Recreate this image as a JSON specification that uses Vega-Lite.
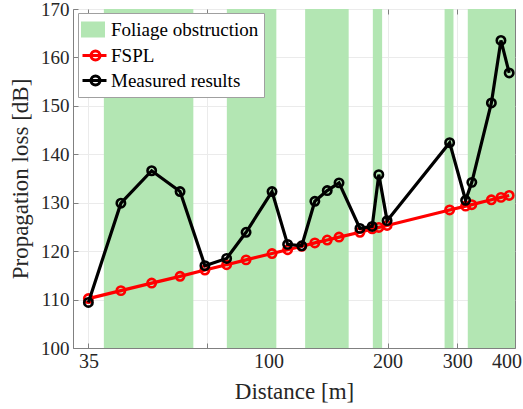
{
  "$schema": "https://vega.github.io/schema/vega-lite/v6.json",
  "width": 442,
  "height": 339,
  "autosize": "none",
  "padding": {"left": 73, "top": 9, "right": 8, "bottom": 61},
  "background": "white",
  "config": {
    "font": "Liberation Serif",
    "view": {"stroke": "#808080", "strokeWidth": 1},
    "axis": {
      "labelFont": "Liberation Serif",
      "titleFont": "Liberation Serif",
      "labelColor": "#262626",
      "titleColor": "#262626",
      "labelFontSize": 20,
      "titleFontSize": 23,
      "titleFontWeight": "normal",
      "domainColor": "#808080",
      "tickColor": "#808080",
      "gridColor": "#ebebeb",
      "gridWidth": 1
    },
    "legend": {
      "labelFont": "Liberation Serif",
      "labelFontSize": 19,
      "labelColor": "#000000"
    }
  },
  "datasets": {
    "bands": [
      {"start": 38.3, "end": 64.5},
      {"start": 78.4, "end": 104.6},
      {"start": 123.7, "end": 159.4},
      {"start": 183.5, "end": 193.7},
      {"start": 278.7, "end": 293.5},
      {"start": 319, "end": 420}
    ],
    "pts": [
      {"distance": 35, "loss": 110.2, "series": "FSPL"},
      {"distance": 42.3, "loss": 111.85, "series": "FSPL"},
      {"distance": 50.6, "loss": 113.4, "series": "FSPL"},
      {"distance": 59.7, "loss": 114.8, "series": "FSPL"},
      {"distance": 69.0, "loss": 116.1, "series": "FSPL"},
      {"distance": 78.3, "loss": 117.2, "series": "FSPL"},
      {"distance": 87.7, "loss": 118.2, "series": "FSPL"},
      {"distance": 102, "loss": 119.5, "series": "FSPL"},
      {"distance": 111.7, "loss": 120.3, "series": "FSPL"},
      {"distance": 121.3, "loss": 121.0, "series": "FSPL"},
      {"distance": 130.9, "loss": 121.7, "series": "FSPL"},
      {"distance": 140.7, "loss": 122.3, "series": "FSPL"},
      {"distance": 150.7, "loss": 122.9, "series": "FSPL"},
      {"distance": 170.2, "loss": 123.9, "series": "FSPL"},
      {"distance": 182.8, "loss": 124.6, "series": "FSPL"},
      {"distance": 190, "loss": 124.9, "series": "FSPL"},
      {"distance": 199.4, "loss": 125.3, "series": "FSPL"},
      {"distance": 287, "loss": 128.5, "series": "FSPL"},
      {"distance": 315, "loss": 129.3, "series": "FSPL"},
      {"distance": 326.6, "loss": 129.6, "series": "FSPL"},
      {"distance": 366, "loss": 130.6, "series": "FSPL"},
      {"distance": 387, "loss": 131.1, "series": "FSPL"},
      {"distance": 406, "loss": 131.5, "series": "FSPL"},
      {"distance": 35, "loss": 109.4, "series": "Measured results"},
      {"distance": 42.3, "loss": 129.9, "series": "Measured results"},
      {"distance": 50.6, "loss": 136.6, "series": "Measured results"},
      {"distance": 59.7, "loss": 132.3, "series": "Measured results"},
      {"distance": 69.0, "loss": 117.0, "series": "Measured results"},
      {"distance": 78.3, "loss": 118.5, "series": "Measured results"},
      {"distance": 87.7, "loss": 123.9, "series": "Measured results"},
      {"distance": 102, "loss": 132.3, "series": "Measured results"},
      {"distance": 111.7, "loss": 121.4, "series": "Measured results"},
      {"distance": 121.3, "loss": 121.1, "series": "Measured results"},
      {"distance": 130.9, "loss": 130.3, "series": "Measured results"},
      {"distance": 140.7, "loss": 132.5, "series": "Measured results"},
      {"distance": 150.7, "loss": 134.1, "series": "Measured results"},
      {"distance": 170.2, "loss": 124.7, "series": "Measured results"},
      {"distance": 182.8, "loss": 125.1, "series": "Measured results"},
      {"distance": 190, "loss": 135.8, "series": "Measured results"},
      {"distance": 199.4, "loss": 126.3, "series": "Measured results"},
      {"distance": 287, "loss": 142.4, "series": "Measured results"},
      {"distance": 315, "loss": 130.5, "series": "Measured results"},
      {"distance": 326.6, "loss": 134.2, "series": "Measured results"},
      {"distance": 366, "loss": 150.6, "series": "Measured results"},
      {"distance": 387, "loss": 163.5, "series": "Measured results"},
      {"distance": 406, "loss": 156.8, "series": "Measured results"}
    ]
  },
  "layer": [
    {
      "data": {"name": "bands"},
      "mark": {"type": "rect", "color": "#b3e6b3"},
      "encoding": {
        "x": {
          "field": "start", "type": "quantitative",
          "scale": {"type": "log", "domain": [32, 420], "nice": false, "zero": false},
          "axis": {
            "orient": "bottom",
            "title": "Distance [m]",
            "values": [35, 40, 50, 60, 70, 80, 90, 100, 200, 300, 400],
            "labelExpr": "(datum.value == 35 || datum.value == 100 || datum.value == 200 || datum.value == 300 || datum.value == 400) ? format(datum.value, 'd') : ''",
            "labelOverlap": false,
            "labelBound": false,
            "labelFlush": false,
            "tickSize": -5,
            "labelPadding": 8,
            "grid": true,
            "titleX": 221,
            "titleY": 50,
            "titleBaseline": "alphabetic"
          }
        },
        "x2": {"field": "end"},
        "y": {
          "datum": 100, "type": "quantitative",
          "scale": {"domain": [100, 170], "nice": false, "zero": false},
          "axis": {
            "orient": "left",
            "title": "Propagation loss [dB]",
            "values": [100, 110, 120, 130, 140, 150, 160, 170],
            "tickSize": -5,
            "labelPadding": 9,
            "labelFontSize": 19,
            "grid": true,
            "titleX": -53,
            "titleY": 169.5,
            "titleBaseline": "middle"
          }
        },
        "y2": {"datum": 170}
      }
    },
    {
      "data": {"name": "pts"},
      "transform": [{"filter": "datum.series == 'FSPL'"}],
      "mark": {"type": "line", "strokeWidth": 3.2, "point": {"filled": false, "size": 70, "strokeWidth": 2.6}},
      "encoding": {
        "x": {"field": "distance", "type": "quantitative",
          "axis": {"orient": "top", "title": null, "labels": false, "domain": false, "grid": false, "tickSize": -5,
            "values": [35, 40, 50, 60, 70, 80, 90, 100, 200, 300, 400]}},
        "y": {"field": "loss", "type": "quantitative",
          "axis": {"orient": "right", "title": null, "labels": false, "domain": false, "grid": false, "tickSize": -5,
            "values": [100, 110, 120, 130, 140, 150, 160, 170]}},
        "color": {
          "field": "series", "type": "nominal",
          "scale": {"domain": ["Foliage obstruction", "FSPL", "Measured results"], "range": ["#b3e6b3", "#ff0000", "#000000"]},
          "legend": {
            "title": null,
            "orient": "none",
            "legendX": 5,
            "legendY": 4,
            "fillColor": "white",
            "strokeColor": "#a0a0a0",
            "padding": 5,
            "rowPadding": 2,
            "symbolSize": 400,
            "labelOffset": 5,
            "symbolStrokeWidth": 3,
            "encode": {
              "symbols": {
                "update": {
                  "shape": {"signal": "datum.value === 'Foliage obstruction' ? 'M-1.2,-0.65H0.9V0.65H-1.2Z' : 'M-1.2,0H1.2M-0.35,0A0.45,0.45 0 1,1 0.55,0A0.45,0.45 0 1,1 -0.35,0'"},
                  "fill": {"signal": "datum.value === 'Foliage obstruction' ? '#b3e6b3' : 'transparent'"},
                  "stroke": {"signal": "datum.value === 'FSPL' ? '#ff0000' : (datum.value === 'Measured results' ? '#000000' : 'transparent')"},
                  "strokeWidth": {"value": 3},
                  "opacity": {"value": 1}
                }
              }
            }
          }
        }
      }
    },
    {
      "data": {"name": "pts"},
      "transform": [{"filter": "datum.series == 'Measured results'"}],
      "mark": {"type": "line", "strokeWidth": 3.2, "point": {"filled": false, "size": 70, "strokeWidth": 2.6}},
      "encoding": {
        "x": {"field": "distance", "type": "quantitative", "axis": null},
        "y": {"field": "loss", "type": "quantitative", "axis": null},
        "color": {"field": "series", "type": "nominal", "legend": null}
      }
    }
  ],
  "resolve": {"axis": {"x": "independent", "y": "independent"}}
}
